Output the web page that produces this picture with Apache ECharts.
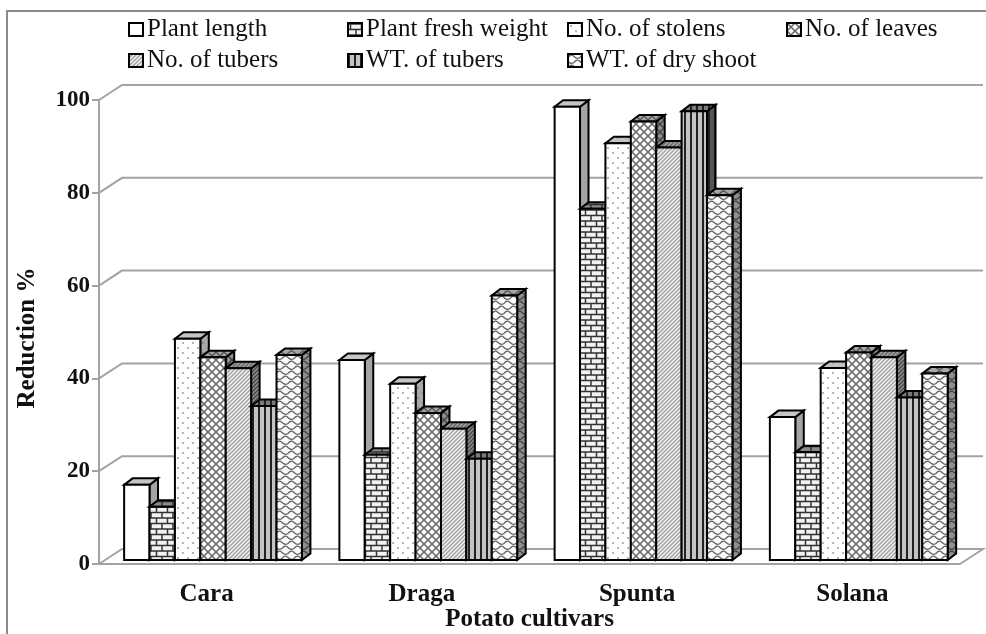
<!DOCTYPE html>
<html>
<head>
<meta charset="utf-8">
<title>Reduction % by potato cultivar</title>
<style>
  html, body { margin: 0; padding: 0; background: #fff; }
  #chart { width: 986px; height: 634px; }
</style>
<script src="https://cdn.jsdelivr.net/npm/echarts@6/dist/echarts.min.js"></script>
</head>
<body>
<div id="chart"></div>
<script>
const categories = ['Cara', 'Draga', 'Spunta', 'Solana'];
const yTicks = [0, 20, 40, 60, 80, 100];

const plantLength = [16.2, 43.1, 97.7, 30.8];
const plantFreshWeight = [11.5, 22.7, 75.7, 23.2];
const noOfStolens = [47.7, 38, 89.8, 41.4];
const noOfLeaves = [43.7, 31.7, 94.5, 44.7];
const noOfTubers = [41.3, 28.3, 88.9, 43.7];
const wtOfTubers = [33.2, 21.8, 96.7, 35];
const wtOfDryShoot = [44.2, 57, 78.6, 40.2];

const serif = '"Liberation Serif", "Times New Roman", serif';
const axisGrey = '#a3a3a3';

// 3d look: wall depth, where the bars sit on the floor, and bar depth
const wallDx = 23, wallDy = -15;
const floorDx = 6.4, floorDy = -4;
const barDx = 8.5, barDy = -6.5;

function tile(kind, fg, bg) {
    const sizes = { none: [4, 4], brick: [11, 11], dots: [10, 10], lattice: [8, 8], diag: [4, 4], vert: [6, 4], wave: [12, 10] };
    const [w, h] = sizes[kind];
    const c = document.createElement('canvas');
    c.width = w;
    c.height = h;
    const g = c.getContext('2d');
    g.fillStyle = bg;
    g.fillRect(0, 0, w, h);
    g.strokeStyle = fg;
    g.fillStyle = fg;
    if (kind === 'brick') {
        g.lineWidth = 1.5;
        g.beginPath();
        [1, 6.5].forEach((y) => { g.moveTo(0, y); g.lineTo(w, y); });
        [[2.5, 1, 6.5], [8, 6.5, 12], [8, -4, 1]].forEach(([x, a, b]) => { g.moveTo(x, a); g.lineTo(x, b); });
        g.stroke();
    } else if (kind === 'dots') {
        g.fillRect(2, 2, 2, 2);
        g.fillRect(7, 7, 2, 2);
    } else if (kind === 'lattice') {
        g.lineWidth = 1.5;
        g.beginPath();
        g.moveTo(-1, -1); g.lineTo(w + 1, h + 1);
        g.moveTo(w + 1, -1); g.lineTo(-1, h + 1);
        g.stroke();
    } else if (kind === 'diag') {
        g.lineWidth = 1.3;
        g.beginPath();
        g.moveTo(-1, h + 1); g.lineTo(w + 1, -1);
        g.moveTo(-1, 1); g.lineTo(1, -1);
        g.moveTo(w - 1, h + 1); g.lineTo(w + 1, h - 1);
        g.stroke();
    } else if (kind === 'vert') {
        g.fillRect(0, 0, 2, h);
    } else if (kind === 'wave') {
        g.lineWidth = 1.3;
        g.beginPath();
        [1.5, 6.5].forEach((y, i) => {
            const s = i * 6;
            for (let k = -1; k < 2; k++) {
                g.moveTo(s + k * w, y + 2);
                g.quadraticCurveTo(s + k * w + 3, y - 2, s + k * w + 6, y + 1);
                g.quadraticCurveTo(s + k * w + 9, y + 4, s + k * w + 12, y + 2);
            }
        });
        g.stroke();
    }
    return { image: c, repeat: 'repeat' };
}

const measures = [
    { name: 'Plant length', values: plantLength, kind: 'none', front: ['#fff', '#fff'], top: ['#c6c6c6', '#c6c6c6'], side: ['#a4a4a4', '#a4a4a4'] },
    { name: 'Plant fresh weight', values: plantFreshWeight, kind: 'brick', front: ['#333', '#f2f2f2'], top: ['#333', '#8a8a8a'], side: ['#333', '#8a8a8a'] },
    { name: 'No. of stolens', values: noOfStolens, kind: 'dots', front: ['#b4b4b4', '#fff'], top: ['#aaa', '#c4c4c4'], side: ['#888', '#a8a8a8'] },
    { name: 'No. of leaves', values: noOfLeaves, kind: 'lattice', front: ['#666', '#f8f8f8'], top: ['#555', '#a8a8a8'], side: ['#444', '#8e8e8e'] },
    { name: 'No. of tubers', values: noOfTubers, kind: 'diag', front: ['#a0a0a0', '#f2f2f2'], top: ['#666', '#a4a4a4'], side: ['#444', '#8e8e8e'] },
    { name: 'WT. of tubers', values: wtOfTubers, kind: 'vert', front: ['#222', '#c4c4c4'], top: ['#222', '#7a7a7a'], side: ['#222', '#555'] },
    { name: 'WT. of dry shoot', values: wtOfDryShoot, kind: 'wave', front: ['#666', '#fcfcfc'], top: ['#555', '#a8a8a8'], side: ['#444', '#8e8e8e'] },
];

const barSeries = measures.map((m, idx) => {
    const front = tile(m.kind, m.front[0], m.front[1]);
    const top = tile(m.kind, m.top[0], m.top[1]);
    const side = tile(m.kind, m.side[0], m.side[1]);
    return {
        type: 'custom',
        name: m.name,
        coordinateSystem: 'cartesian2d',
        itemStyle: { color: front },
        encode: { x: 0, y: 1 },
        data: m.values.map((v, i) => [i, v]),
        z: 3,
        renderItem(params, api) {
            const band = api.size([1, 0])[0];
            const w = band * 0.118;
            const base = api.coord([api.value(0), 0]);
            const head = api.coord([api.value(0), api.value(1)]);
            const x0 = base[0] + floorDx + (idx - 3.5) * w;
            const x1 = x0 + w;
            const y0 = base[1] + floorDy;
            const y1 = head[1] + floorDy;
            const edge = { stroke: '#000', lineWidth: 2, lineJoin: 'miter' };
            return {
                type: 'group',
                children: [
                    { type: 'polygon', shape: { points: [[x1, y1], [x1 + barDx, y1 + barDy], [x1 + barDx, y0 + barDy], [x1, y0]] }, style: { fill: side, ...edge } },
                    { type: 'polygon', shape: { points: [[x0, y1], [x0 + barDx, y1 + barDy], [x1 + barDx, y1 + barDy], [x1, y1]] }, style: { fill: top, ...edge } },
                    { type: 'polygon', shape: { points: [[x0, y0], [x1, y0], [x1, y1], [x0, y1]] }, style: { fill: front, ...edge } },
                ],
            };
        },
    };
});

// gridlines on the back wall and their run down the side wall, placed from the value axis
const wallSeries = {
    type: 'custom',
    name: 'wall',
    coordinateSystem: 'cartesian2d',
    silent: true,
    z: 1,
    encode: { y: 0 },
    data: yTicks.map((v) => [v]),
    renderItem(params, api) {
        const sys = params.coordSys;
        const y = api.coord([0, api.value(0)])[1];
        const right = sys.x + sys.width;
        const pts = [[sys.x, y], [sys.x + wallDx, y + wallDy], [right + wallDx, y + wallDy]];
        if (api.value(0) === 0) pts.push([right, y]);
        return {
            type: 'polyline',
            shape: { points: pts },
            style: { stroke: axisGrey, lineWidth: 2, fill: 'none' },
        };
    },
};

function legendColumn(names, left) {
    return {
        left,
        top: 17,
        orient: 'vertical',
        padding: 0,
        itemWidth: 14,
        itemHeight: 13,
        itemGap: 6,
        selectedMode: false,
        textStyle: { fontFamily: serif, fontSize: 25, color: '#111', padding: [0, 0, 0, -1] },
        data: names.map((name) => {
            const m = measures.find((d) => d.name === name);
            return {
                name,
                icon: 'rect',
                itemStyle: { color: tile(m.kind, m.front[0], m.front[1]), borderColor: '#000', borderWidth: 2 },
            };
        }),
    };
}

const chart = echarts.init(document.getElementById('chart'), null, { renderer: 'canvas' });
chart.setOption({
    animation: false,
    backgroundColor: '#fff',
    grid: { left: 99, right: 26, top: 100, height: 464, outerBoundsMode: 'none' },
    legend: [
        legendColumn(['Plant length', 'No. of tubers'], 128),
        legendColumn(['Plant fresh weight', 'WT. of tubers'], 347),
        legendColumn(['No. of stolens', 'WT. of dry shoot'], 567),
        legendColumn(['No. of leaves'], 786),
    ],
    xAxis: {
        type: 'category',
        data: categories,
        name: 'Potato cultivars',
        nameLocation: 'middle',
        nameGap: 43,
        nameMoveOverlap: false,
        nameTextStyle: { color: '#111', fontFamily: serif, fontWeight: 'bold', fontSize: 25 },
        axisLine: { lineStyle: { color: axisGrey, width: 2 } },
        axisTick: { length: 8, lineStyle: { color: axisGrey, width: 2 } },
        axisLabel: { margin: 18, color: '#111', fontFamily: serif, fontWeight: 'bold', fontSize: 25 },
        splitLine: { show: false },
    },
    yAxis: {
        type: 'value',
        min: 0,
        max: 100,
        interval: 20,
        name: 'Reduction %',
        nameLocation: 'middle',
        nameGap: 59,
        nameTextStyle: { color: '#111', fontFamily: serif, fontWeight: 'bold', fontSize: 25, padding: [0, 12, 0, 0] },
        axisLine: { show: true, lineStyle: { color: axisGrey, width: 2 } },
        axisTick: { show: true, length: 7, lineStyle: { color: axisGrey, width: 2 } },
        axisLabel: { margin: 9, color: '#111', fontFamily: serif, fontWeight: 'bold', fontSize: 23 },
        splitLine: { show: false },
    },
    graphic: [
        { type: 'polyline', silent: true, shape: { points: [[7, 634], [7, 11], [986, 11]] }, style: { stroke: '#8a8a8a', lineWidth: 2, fill: 'none' } },
    ],
    series: [wallSeries, ...barSeries],
});
</script>
</body>
</html>
